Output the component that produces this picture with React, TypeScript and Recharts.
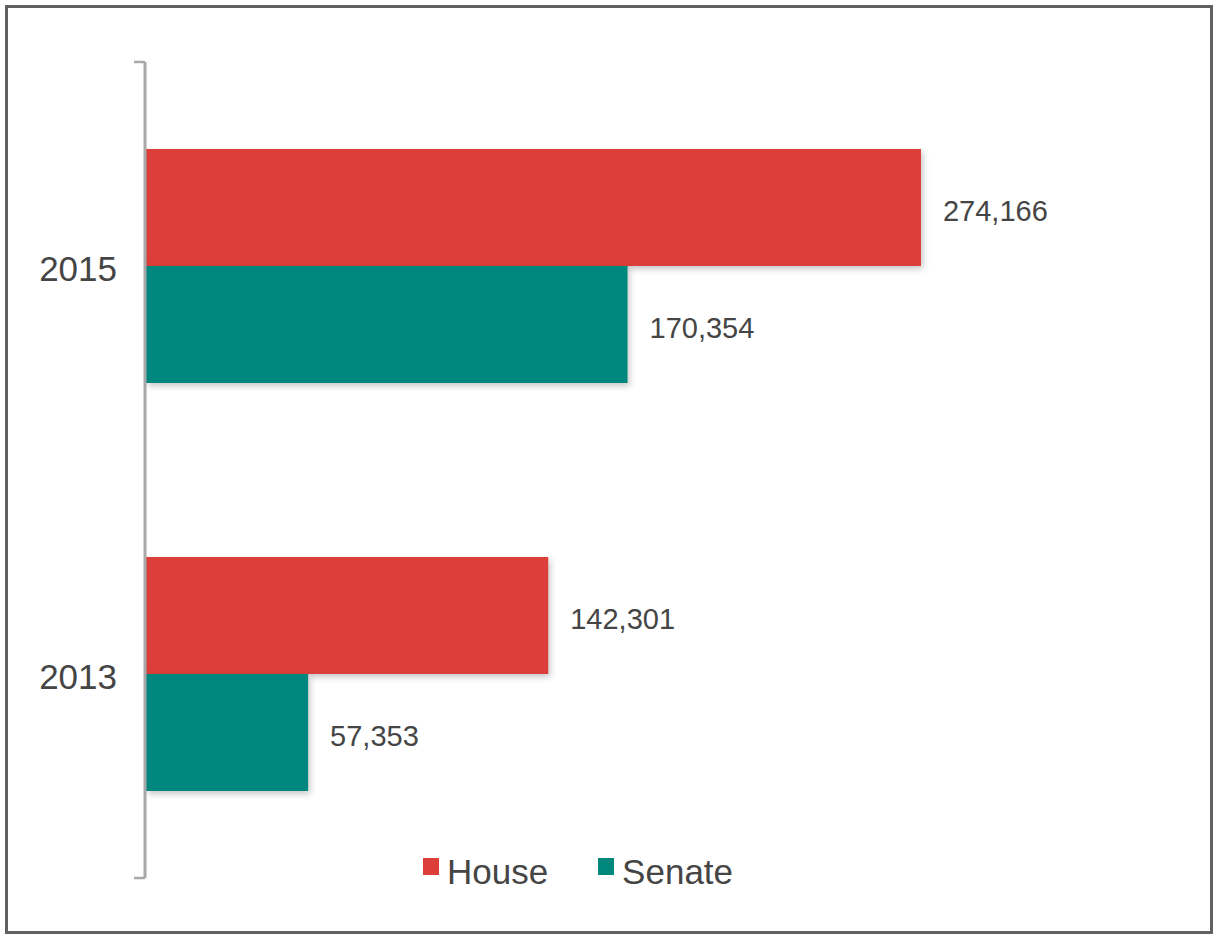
import React from 'react';
import { BarChart, Bar, XAxis, YAxis, Legend, LabelList } from 'recharts';

const years = ['2015', '2013'];
const house = [274166, 142301];
const senate = [170354, 57353];
const edgeTicks = [0, 1, 2];

const HOUSE_COLOR = '#dc3f39';
const SENATE_COLOR = '#00877e';
const TEXT = '#454545';
const AXIS = '#a8a8a8';
const FONT = '"Liberation Sans", Arial, Helvetica, sans-serif';

const chartData = years.map((year, i) => ({
  year,
  house: house[i],
  senate: senate[i],
}));

const fmt = (v: any) => Number(v).toLocaleString('en-US');

// short tick mark drawn at group boundaries
const EdgeTick = ({ x, y }: any) => (
  <line x1={x - 11} x2={x} y1={y} y2={y} stroke={AXIS} strokeWidth={2.5} />
);

const LegendContent = ({ payload }: any) => (
  <div style={{ display: 'flex', justifyContent: 'center', fontFamily: FONT }}>
    {(payload || []).map((p: any, i: number) => (
      <div
        key={p.value}
        style={{ display: 'flex', alignItems: 'center', marginLeft: i > 0 ? 50 : 0 }}
      >
        <span
          style={{
            display: 'inline-block',
            width: 16,
            height: 17,
            background: p.color,
            marginRight: 8,
            position: 'relative',
            top: -6,
          }}
        />
        <span style={{ color: TEXT, fontSize: 35 }}>{p.value}</span>
      </div>
    ))}
  </div>
);

const App: React.FC = () => {
  return (
    <div style={{ position: 'absolute', left: 0, top: 0, width: 1216, height: 936, background: '#fff' }}>
      <style>{`.recharts-bar-rectangle { filter: drop-shadow(2px 3px 3px rgba(0,0,0,0.22)); }`}</style>
      <div
        style={{
          position: 'absolute',
          left: 5,
          top: 5,
          width: 1202,
          height: 923,
          border: '3px solid #616161',
        }}
      />
      <BarChart
        width={1216}
        height={936}
        data={chartData}
        layout="vertical"
        margin={{ top: 62, right: 222, bottom: 58, left: 45 }}
        barCategoryGap="21.3%"
        barGap={0}
        style={{ position: 'absolute', left: 0, top: 0 }}
      >
        <XAxis type="number" domain={[0, 300000]} hide />
        <YAxis
          type="category"
          dataKey="year"
          width={1}
          tickLine={false}
          tickSize={0}
          tickMargin={29}
          axisLine={false}
          tick={{ fill: TEXT, fontSize: 35, fontFamily: FONT, dy: 3 }}
        />
        <YAxis
          yAxisId="edge"
          type="number"
          domain={[0, 2]}
          ticks={edgeTicks}
          interval={0}
          width={100}
          tickSize={0}
          tickMargin={0}
          tickLine={false}
          tick={<EdgeTick />}
          axisLine={{ stroke: AXIS, strokeWidth: 3 }}
          allowDataOverflow
        />
        <Legend
          layout="horizontal"
          verticalAlign="middle"
          align="center"
          wrapperStyle={{ top: 852, left: 0, width: 1156 }}
          content={<LegendContent />}
        />
        <Bar dataKey="house" name="House" fill={HOUSE_COLOR} isAnimationActive={false}>
          <LabelList
            dataKey="house"
            position="right"
            offset={22}
            formatter={fmt}
            style={{ fill: TEXT, fontSize: 29, fontFamily: FONT }}
            dy={3}
          />
        </Bar>
        <Bar dataKey="senate" name="Senate" fill={SENATE_COLOR} isAnimationActive={false}>
          <LabelList
            dataKey="senate"
            position="right"
            offset={22}
            formatter={fmt}
            style={{ fill: TEXT, fontSize: 29, fontFamily: FONT }}
            dy={3}
          />
        </Bar>
      </BarChart>
    </div>
  );
};

export default App;
